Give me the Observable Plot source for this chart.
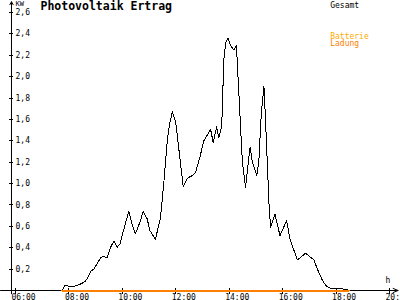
<!DOCTYPE html>
<html>
<head>
<meta charset="utf-8">
<script src="https://cdn.jsdelivr.net/npm/d3@7"></script>
<script src="https://cdn.jsdelivr.net/npm/@observablehq/plot@0.6"></script>
<style>
  html, body { margin: 0; padding: 0; background: #fff; overflow: hidden; }
</style>
</head>
<body>
<div id="chart"></div>
<script>
// Gesamt (total PV output, kW) by hour of day
const hours = [7.75, 7.85, 8.0, 8.12, 8.31, 8.5, 8.62, 8.75, 8.81, 8.93, 9.06, 9.18, 9.31, 9.43, 9.56, 9.68, 9.81, 9.91,
  10.06, 10.24, 10.37, 10.49, 10.66, 10.78, 10.93, 11.03, 11.24, 11.43, 11.55, 11.68, 11.77, 11.87, 12.0, 12.12, 12.28,
  12.43, 12.62, 12.74, 12.9, 13.05, 13.24, 13.3, 13.4, 13.53, 13.61, 13.72, 13.8, 13.87, 13.95, 14.05, 14.17, 14.27,
  14.36, 14.49, 14.61, 14.78, 14.86, 15.03, 15.11, 15.2, 15.3, 15.36, 15.49, 15.55, 15.71, 15.9, 16.15, 16.27, 16.36,
  16.55, 16.67, 16.86, 16.99, 17.17, 17.3, 17.49, 17.65, 17.8, 18.05, 18.42, 18.48];
const power = [0, 0.047, 0.04, 0.037, 0.047, 0.068, 0.087, 0.14, 0.18, 0.2, 0.25, 0.305, 0.32, 0.305, 0.405, 0.46, 0.405, 0.436,
  0.577, 0.74, 0.61, 0.53, 0.64, 0.74, 0.67, 0.56, 0.48, 0.685, 1.0, 1.40, 1.56, 1.67, 1.57, 1.31, 0.97,
  1.05, 1.075, 1.105, 1.245, 1.40, 1.48, 1.51, 1.386, 1.53, 1.43, 1.54, 2.165, 2.32, 2.36, 2.29, 2.25, 2.29,
  1.85, 1.21, 0.965, 1.34, 1.21, 1.075, 1.215, 1.65, 1.91, 1.59, 0.81, 0.59, 0.717, 0.514, 0.654, 0.483, 0.42,
  0.287, 0.31, 0.35, 0.32, 0.287, 0.2, 0.093, 0.037, 0.019, 0.016, 0.012, 0];

// Batterie Ladung (battery charge, kW)
const batteryHours = [7.75, 18.48];
const batteryPower = [0, 0];

const xTicks = [6, 8, 10, 12, 14, 16, 18, 20];
const xTickLabels = ["06:00", "08:00", "10:00", "12:00", "14:00", "16:00", "18:00", "20:00"];
const yTicks = [0.2, 0.4, 0.6, 0.8, 1.0, 1.2, 1.4, 1.6, 1.8, 2.0, 2.2, 2.4, 2.6];
const yTickLabels = ["0,2", "0,4", "0,6", "0,8", "1,0", "1,2", "1,4", "1,6", "1,8", "2,0", "2,2", "2,4", "2,6"];

const titleText = "Photovoltaik Ertrag";
const legendLabels = ["Gesamt", "Batterie", "Ladung"];
const legendColors = ["#000000", "#ffaa00", "#ff8000"];
const yUnit = "KW";
const xUnit = "h";

const totalData = hours.map((h, i) => ({h, v: power[i]}));
const batteryData = batteryHours.map((h, i) => ({h, v: batteryPower[i]}));

// layout constants in data units (hours / kW)
const yAxisHour = 5.85, xAxisStart = 5.44, xAxisEnd = 20.32, yAxisBottom = -0.03, yAxisTop = 2.70;
const legendHour = 17.78;
const legendLevels = [2.67, 2.378, 2.306];

const font = "DejaVu Sans Mono";

const chart = Plot.plot({
  width: 400,
  height: 300,
  marginLeft: 15,
  marginRight: 11,
  marginTop: 12,
  marginBottom: 10,
  style: {background: "#fff", fontFamily: font, fontSize: "8px", color: "#000"},
  x: {domain: [6, 20], axis: null},
  y: {domain: [0, 2.6], axis: null},
  marks: [
    // axes
    Plot.arrow([0], {x1: xAxisStart, y1: 0, x2: xAxisEnd, y2: 0, stroke: "#000", strokeWidth: 1, headLength: 8, headAngle: 45, bend: 0}),
    Plot.arrow([0], {x1: yAxisHour, y1: yAxisBottom, x2: yAxisHour, y2: yAxisTop, stroke: "#000", strokeWidth: 1, headLength: 5, headAngle: 60, bend: 0}),
    Plot.ruleY(yTicks, {y: d => d, x1: 5.775, x2: 5.925, stroke: "#000", shapeRendering: "crispEdges"}),
    Plot.ruleX(xTicks, {x: d => d, y1: -0.04, y2: 0.02, stroke: "#000", shapeRendering: "crispEdges"}),
    Plot.text(yTicks, {x: 6.0, y: d => d, text: (d, i) => yTickLabels[i], textAnchor: "start", lineAnchor: "middle", fontSize: 8, fill: "#000"}),
    Plot.text(xTicks, {x: d => d, y: 0, dx: -4, dy: 6.5, text: (d, i) => xTickLabels[i], textAnchor: "start", lineAnchor: "middle", fontSize: 8, fill: "#000"}),
    Plot.text([yUnit], {x: 6.0, y: 2.6, dy: -8.5, text: d => d, textAnchor: "start", lineAnchor: "middle", fontSize: 7, fill: "#000"}),
    Plot.text([xUnit], {x: 20, y: 0, dx: -1.5, dy: -10, text: d => d, textAnchor: "middle", lineAnchor: "middle", fontSize: 8, fill: "#000"}),
    // title
    Plot.text([titleText], {x: 6.935, y: 2.6, dy: -6.5, text: d => d, textAnchor: "start", lineAnchor: "middle", fontSize: 11.5, fontWeight: "bold", fill: "#000"}),
    // legend
    Plot.text(legendLabels, {x: legendHour, y: (d, i) => legendLevels[i], text: d => d, textAnchor: "start", lineAnchor: "middle", fontSize: 8,
      fill: (d, i) => legendColors[i]}),
    // data
    Plot.line(totalData, {x: "h", y: "v", stroke: "#000", strokeWidth: 1, shapeRendering: "crispEdges"}),
    Plot.line(batteryData, {x: "h", y: "v", stroke: "#ff8000", strokeWidth: 2, shapeRendering: "crispEdges"})
  ]
});

document.getElementById("chart").appendChild(chart);
</script>
</body>
</html>
